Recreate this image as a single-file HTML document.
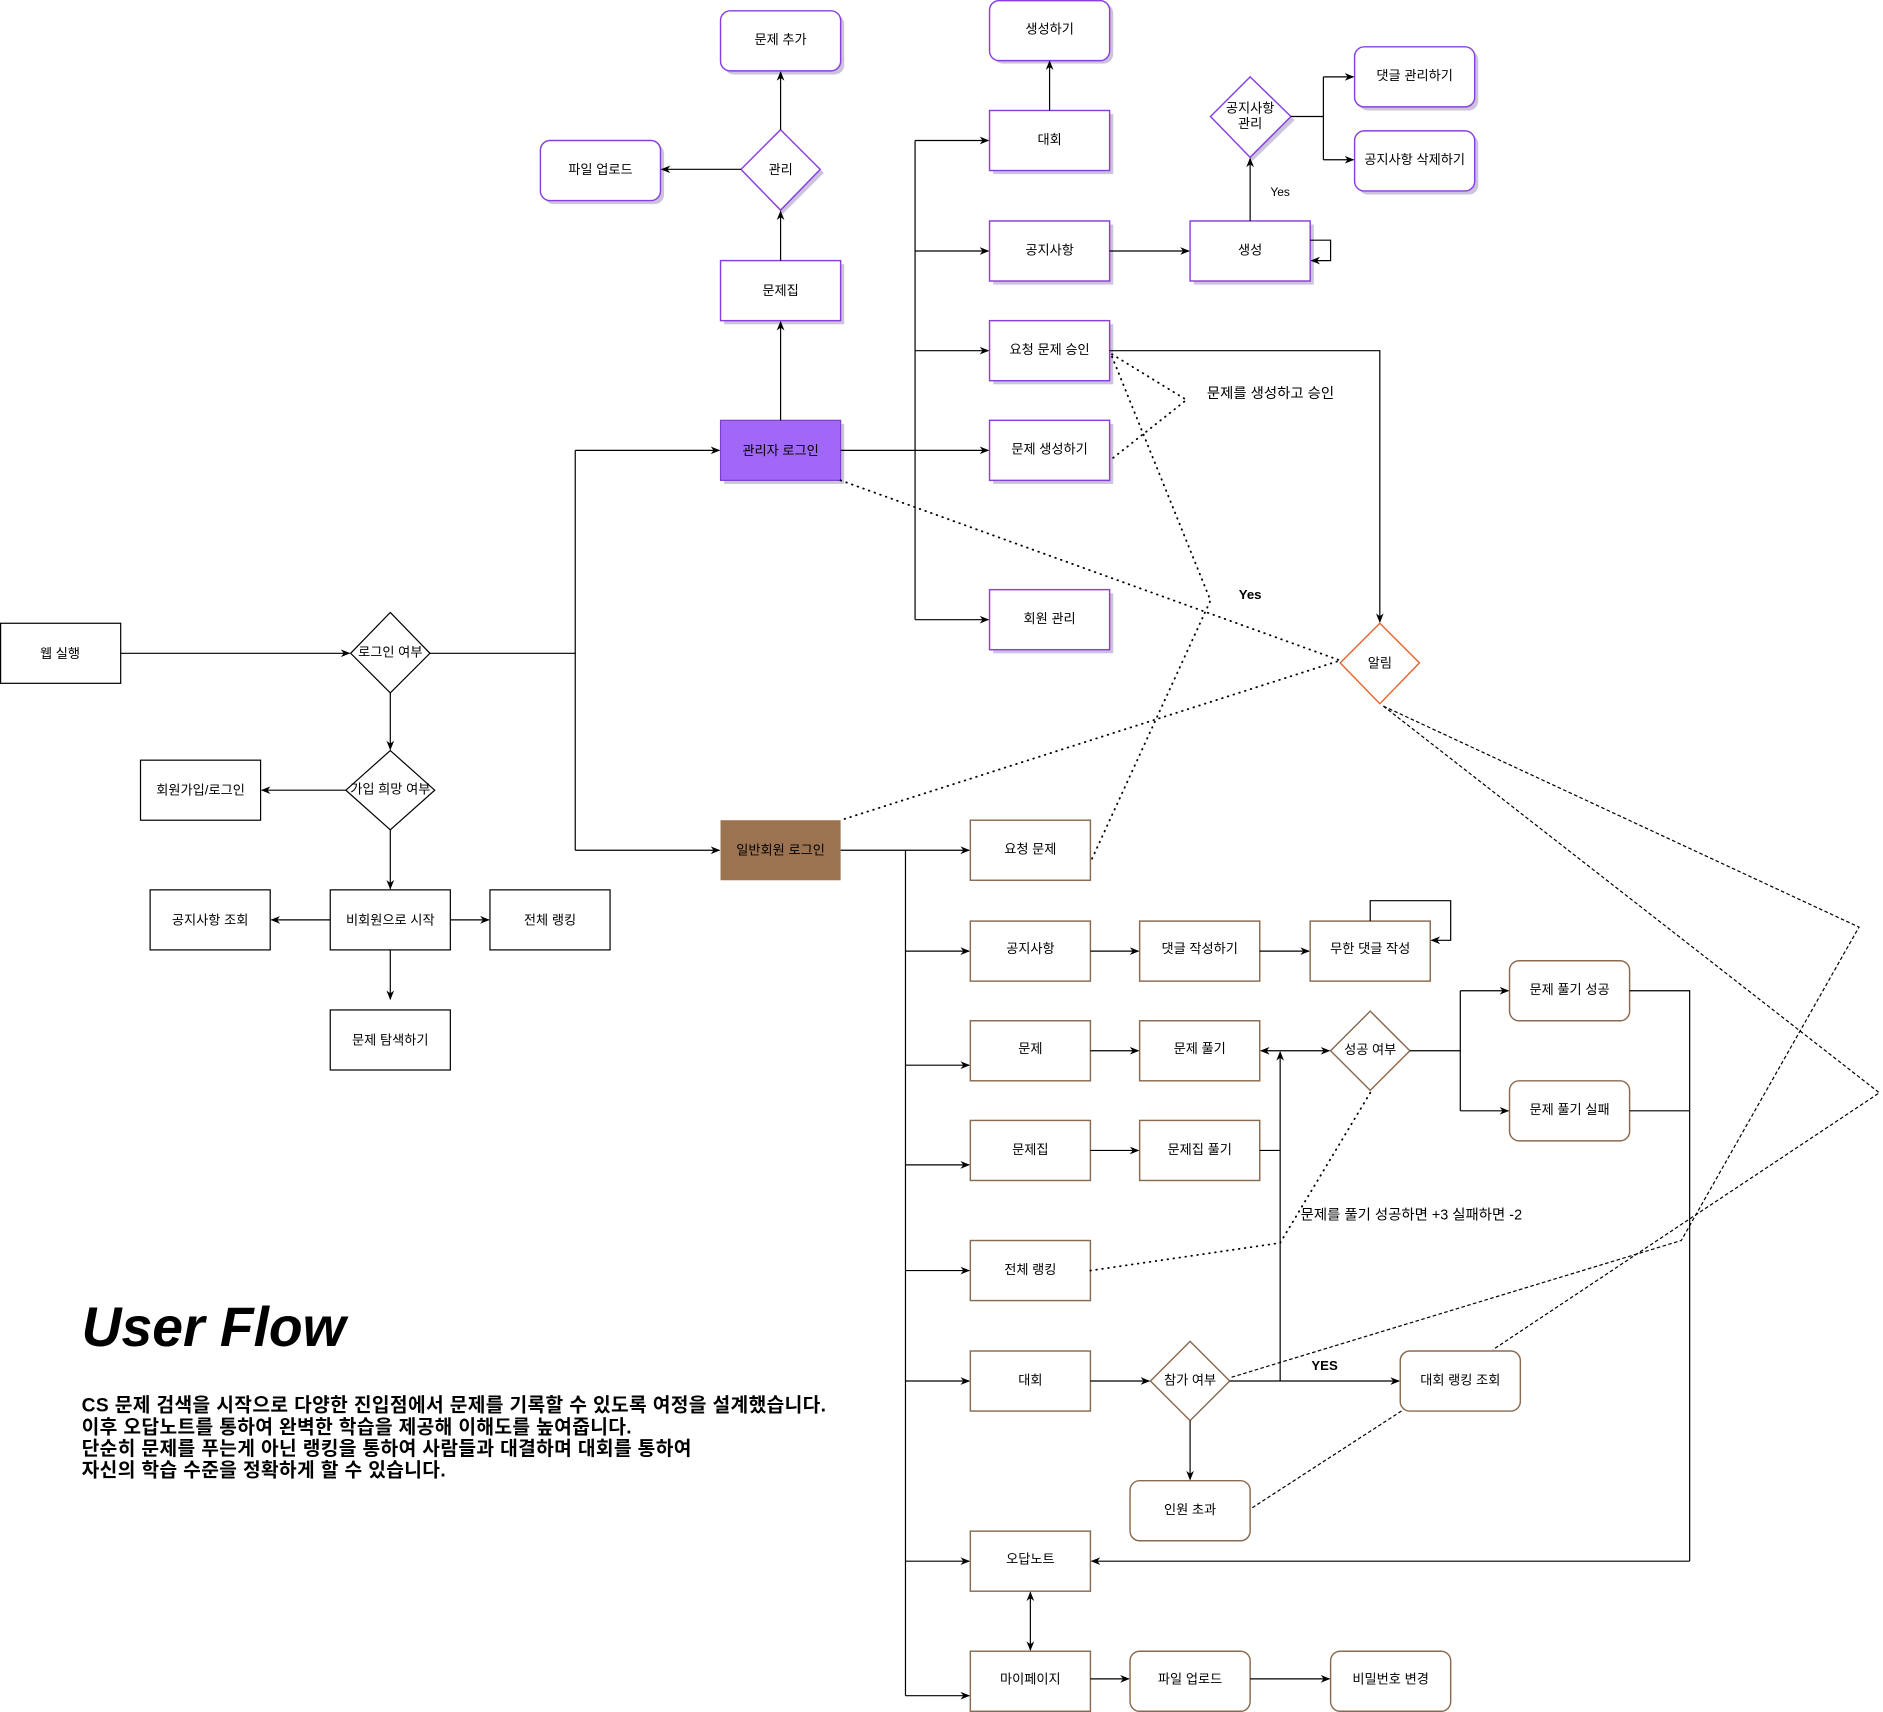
<!DOCTYPE html>
<html><head><meta charset="utf-8"><style>
html,body{margin:0;padding:0;background:#fff;}
svg{display:block;}
text{font-family:"Liberation Sans","Noto Sans CJK KR",sans-serif;font-size:11px;fill:#000;text-anchor:middle;dominant-baseline:central;}
.l{fill:none;stroke:#000;stroke-width:1;}
.dot{fill:none;stroke:#000;stroke-width:1.5;stroke-dasharray:0.5 4.5;stroke-linecap:round;}
.dash{fill:none;stroke:#000;stroke-width:1;stroke-dasharray:3 2;}
.b{fill:#fff;stroke:#000;stroke-width:1;}
.p{fill:#fff;stroke:#8a3ee0;stroke-width:1.2;}
.br{fill:#fff;stroke:#8a6a4f;stroke-width:1.2;}
.sh{fill:#ccc3dd;}
</style></head><body>
<svg width="1883" height="1712" viewBox="0 0 1568 1425.6" xmlns="http://www.w3.org/2000/svg">
<defs><marker id="a" viewBox="0 0 10 10" refX="9" refY="5" markerWidth="8" markerHeight="8" orient="auto-start-reverse"><path d="M0,1 L10,5 L0,9 L3,5z" fill="#000"/></marker></defs>

<rect class="b" x="0.5" y="519" width="100" height="50"/><text x="50" y="544">웹 실행</text>
<polygon class="b" points="325,510 358,544 325,577 292,544"/><text x="325" y="543">로그인 여부</text>
<polygon class="b" points="325,625 362,658 325,691 288,658"/><text x="325" y="657">가입 희망 여부</text>
<rect class="b" x="117" y="633" width="100" height="50"/><text x="167" y="658">회원가입/로그인</text>
<rect class="b" x="275" y="741" width="100" height="50"/><text x="325" y="766">비회원으로 시작</text>
<rect class="b" x="125" y="741" width="100" height="50"/><text x="175" y="766">공지사항 조회</text>
<rect class="b" x="408" y="741" width="100" height="50"/><text x="458" y="766">전체 랭킹</text>
<rect class="b" x="275" y="841" width="100" height="50"/><text x="325" y="866">문제 탐색하기</text>
<path class="l" marker-end="url(#a)" d="M100,544 H291"/>
<path class="l" d="M358,544 H479 V708"/><path class="l" marker-end="url(#a)" d="M479,375 H599"/><path class="l" d="M479,544 V375"/><path class="l" marker-end="url(#a)" d="M479,708 H599"/>
<path class="l" marker-end="url(#a)" d="M325,577 V624"/>
<path class="l" marker-end="url(#a)" d="M288,658 H218"/>
<path class="l" marker-end="url(#a)" d="M325,691 V740"/>
<path class="l" marker-end="url(#a)" d="M275,766 H226"/>
<path class="l" marker-end="url(#a)" d="M375,766 H407"/>
<path class="l" marker-end="url(#a)" d="M325,791 V832"/>

<rect class="sh" x="603" y="353" width="100" height="50"/>
<rect x="600" y="350" width="100" height="50" fill="#a167f6" stroke="#7c3fd0"/><text x="650" y="375">관리자 로그인</text>
<rect class="sh" x="603" y="220" width="100" height="50"/><rect class="p" x="600" y="217" width="100" height="50"/><text x="650" y="242">문제집</text>
<polygon class="sh" points="652,111 686,144 652,178 620,144"/><polygon class="p" points="650,108 683,141 650,175 617,141"/><text x="650" y="141">관리</text>
<rect class="sh" x="603" y="12" width="100" height="50" rx="8"/><rect class="p" x="600" y="9" width="100" height="50" rx="8"/><text x="650" y="33">문제 추가</text>
<rect class="sh" x="453" y="120" width="100" height="50" rx="8"/><rect class="p" x="450" y="117" width="100" height="50" rx="8"/><text x="500" y="141">파일 업로드</text>
<path class="l" marker-end="url(#a)" d="M650,350 V268"/>
<path class="l" marker-end="url(#a)" d="M650,217 V176"/>
<path class="l" marker-end="url(#a)" d="M650,108 V60"/>
<path class="l" marker-end="url(#a)" d="M617,141 H551"/>
<path class="l" marker-end="url(#a)" d="M700,375 H823"/>
<path class="l" d="M762,117 V516"/>
<path class="l" marker-end="url(#a)" d="M762,117 H823"/><path class="l" marker-end="url(#a)" d="M762,209 H823"/><path class="l" marker-end="url(#a)" d="M762,292 H823"/><path class="l" marker-end="url(#a)" d="M762,516 H823"/>
<g>
<rect class="sh" x="827" y="3" width="100" height="50" rx="8"/><rect class="p" x="824" y="0.5" width="100" height="50" rx="8"/><text x="874" y="24">생성하기</text>
<rect class="sh" x="827" y="95" width="100" height="50"/><rect class="p" x="824" y="92" width="100" height="50"/><text x="874" y="116">대회</text>
<rect class="sh" x="827" y="187" width="100" height="50"/><rect class="p" x="824" y="184" width="100" height="50"/><text x="874" y="208">공지사항</text>
<rect class="sh" x="827" y="270" width="100" height="50"/><rect class="p" x="824" y="267" width="100" height="50"/><text x="874" y="291">요청 문제 승인</text>
<rect class="sh" x="827" y="353" width="100" height="50"/><rect class="p" x="824" y="350" width="100" height="50"/><text x="874" y="374">문제 생성하기</text>
<rect class="sh" x="827" y="494" width="100" height="50"/><rect class="p" x="824" y="491" width="100" height="50"/><text x="874" y="515">회원 관리</text>
<rect class="sh" x="994" y="187" width="100" height="50"/><rect class="p" x="991" y="184" width="100" height="50"/><text x="1041" y="208">생성</text>
<polygon class="sh" points="1043,67 1078,100 1043,134 1011,100"/><polygon class="p" points="1041,64 1075,97 1041,131 1008,97"/><text x="1041" y="90">공지사항</text><text x="1041" y="103">관리</text>
<rect class="sh" x="1131" y="42" width="100" height="50" rx="8"/><rect class="p" x="1128" y="39" width="100" height="50" rx="8"/><text x="1178" y="63">댓글 관리하기</text>
<rect class="sh" x="1131" y="112" width="100" height="50" rx="8"/><rect class="p" x="1128" y="109" width="100" height="50" rx="8"/><text x="1178" y="133">공지사항 삭제하기</text>
</g>
<path class="l" marker-end="url(#a)" d="M874,92 V51"/>
<path class="l" marker-end="url(#a)" d="M924,209 H990"/>
<path class="l" marker-end="url(#a)" d="M1091,200 H1108 V217 H1092"/>
<path class="l" marker-end="url(#a)" d="M1041,184 V132"/>
<text x="1066" y="160" style="font-size:10px">Yes</text>
<path class="l" d="M1075,97 H1102 V133"/><path class="l" marker-end="url(#a)" d="M1102,64 H1127"/><path class="l" marker-end="url(#a)" d="M1102,133 H1127"/><path class="l" d="M1102,97 V64"/>
<path class="l" marker-end="url(#a)" d="M924,292 H1149 V518"/>
<polygon points="1149,519 1182,552 1149,586 1116,552" fill="#fff" stroke="#e8662d" stroke-width="1.2"/><text x="1149" y="552">알림</text>

<path class="dot" d="M926,295 L988,333 L926,382"/>
<text x="1058" y="328" style="font-size:12px">문제를 생성하고 승인</text>
<path class="dot" d="M926,297 L1008,500 L908,718"/>
<path class="dot" d="M700,400 L1116,550 L700,683"/>
<text x="1041" y="495" style="font-size:11px;font-weight:bold">Yes</text>
<path class="dash" d="M1152,588 L1548,772 L1400,1033 L1025,1147"/>
<path class="dash" d="M1152,588 L1565,910 L1243,1124"/>
<path class="dash" d="M1167,1175 L1042,1256"/>

<rect x="600" y="683" width="100" height="50" fill="#9c7350"/><text x="650" y="708">일반회원 로그인</text>
<path class="l" d="M700,708 H754 V1412"/>
<path class="l" marker-end="url(#a)" d="M754,708 H807"/><path class="l" marker-end="url(#a)" d="M754,792 H807"/><path class="l" marker-end="url(#a)" d="M754,887 H807"/><path class="l" marker-end="url(#a)" d="M754,970 H807"/><path class="l" marker-end="url(#a)" d="M754,1058 H807"/><path class="l" marker-end="url(#a)" d="M754,1150 H807"/><path class="l" marker-end="url(#a)" d="M754,1300 H807"/><path class="l" marker-end="url(#a)" d="M754,1412 H807"/>
<rect class="br" x="808" y="683" width="100" height="50"/><text x="858" y="707">요청 문제</text>
<rect class="br" x="808" y="767" width="100" height="50"/><text x="858" y="790">공지사항</text>
<rect class="br" x="808" y="850" width="100" height="50"/><text x="858" y="873">문제</text>
<rect class="br" x="808" y="933" width="100" height="50"/><text x="858" y="957">문제집</text>
<rect class="br" x="808" y="1033" width="100" height="50"/><text x="858" y="1057">전체 랭킹</text>
<rect class="br" x="808" y="1125" width="100" height="50"/><text x="858" y="1149">대회</text>
<rect class="br" x="808" y="1275" width="100" height="50"/><text x="858" y="1298">오답노트</text>
<rect class="br" x="808" y="1375" width="100" height="50"/><text x="858" y="1398">마이페이지</text>
<rect class="br" x="949" y="767" width="100" height="50"/><text x="999" y="790">댓글 작성하기</text>
<rect class="br" x="1091" y="767" width="100" height="50"/><text x="1141" y="790">무한 댓글 작성</text>
<rect class="br" x="949" y="850" width="100" height="50"/><text x="999" y="873">문제  풀기</text>
<rect class="br" x="949" y="933" width="100" height="50"/><text x="999" y="957">문제집 풀기</text>
<polygon class="br" points="1141,842 1174,875 1141,908 1108,875"/><text x="1141" y="874">성공 여부</text>
<rect class="br" x="1257" y="800" width="100" height="50" rx="8"/><text x="1307" y="824">문제 풀기 성공</text>
<rect class="br" x="1257" y="900" width="100" height="50" rx="8"/><text x="1307" y="924">문제 풀기 실패</text>
<polygon class="br" points="991,1117 1024,1150 991,1183 958,1150"/><text x="991" y="1149">참가 여부</text>
<rect class="br" x="1166" y="1125" width="100" height="50" rx="8"/><text x="1216" y="1149">대회 랭킹 조회</text>
<rect class="br" x="941" y="1233" width="100" height="50" rx="8"/><text x="991" y="1257">인원 초과</text>
<rect class="br" x="941" y="1375" width="100" height="50" rx="8"/><text x="991" y="1398">파일 업로드</text>
<rect class="br" x="1108" y="1375" width="100" height="50" rx="8"/><text x="1158" y="1398">비밀번호 변경</text>

<path class="l" marker-end="url(#a)" d="M908,792 H948"/>
<path class="l" marker-end="url(#a)" d="M1049,792 H1090"/>
<path class="l" marker-end="url(#a)" d="M1141,767 V750 H1208 V783 H1192"/>
<path class="l" marker-end="url(#a)" d="M908,875 H948"/>
<path class="l" marker-end="url(#a)" d="M908,958 H948"/>
<path class="l" marker-start="url(#a)" marker-end="url(#a)" d="M1050,875 H1107"/>
<path class="l" d="M1049,958 H1066"/>
<path class="l" marker-end="url(#a)" d="M1066,1150 V876"/>
<path class="l" d="M1174,875 H1216 V825"/><path class="l" d="M1216,875 V925"/>
<path class="l" marker-end="url(#a)" d="M1216,825 H1256"/><path class="l" marker-end="url(#a)" d="M1216,925 H1256"/>
<path class="l" d="M1357,825 H1407 V1300"/><path class="l" d="M1357,925 H1407"/>
<path class="l" marker-end="url(#a)" d="M1407,1300 H909"/>
<path class="l" marker-end="url(#a)" d="M908,1150 H957"/>
<path class="l" marker-end="url(#a)" d="M1024,1150 H1165"/>
<text x="1103" y="1137" style="font-size:11px;font-weight:bold">YES</text>
<path class="l" marker-end="url(#a)" d="M991,1183 V1232"/>
<path class="l" marker-start="url(#a)" marker-end="url(#a)" d="M858,1326 V1374"/>
<path class="l" marker-end="url(#a)" d="M908,1398 H940"/>
<path class="l" marker-end="url(#a)" d="M1041,1398 H1107"/>
<path class="dot" d="M1141,910 L1066,1035 L908,1058"/>
<text x="1083" y="1012" style="font-size:12px;text-anchor:start">문제를 풀기 성공하면 +3 실패하면 -2</text>

<text x="68" y="1105" style="font-size:46px;font-weight:bold;font-style:italic;text-anchor:start">User Flow</text>
<g style="font-weight:bold">
<text x="68" y="1171" style="font-size:16px;letter-spacing:0.3px;text-anchor:start">CS 문제 검색을 시작으로 다양한 진입점에서 문제를 기록할 수 있도록 여정을 설계했습니다.</text>
<text x="68" y="1189" style="font-size:16px;letter-spacing:0.3px;text-anchor:start">이후 오답노트를 통하여 완벽한 학습을 제공해 이해도를 높여줍니다.</text>
<text x="68" y="1207" style="font-size:16px;letter-spacing:0.3px;text-anchor:start">단순히 문제를 푸는게 아닌 랭킹을 통하여 사람들과 대결하며 대회를 통하여</text>
<text x="68" y="1225" style="font-size:16px;letter-spacing:0.3px;text-anchor:start">자신의 학습 수준을 정확하게 할 수 있습니다.</text>
</g>
</svg>
</body></html>
